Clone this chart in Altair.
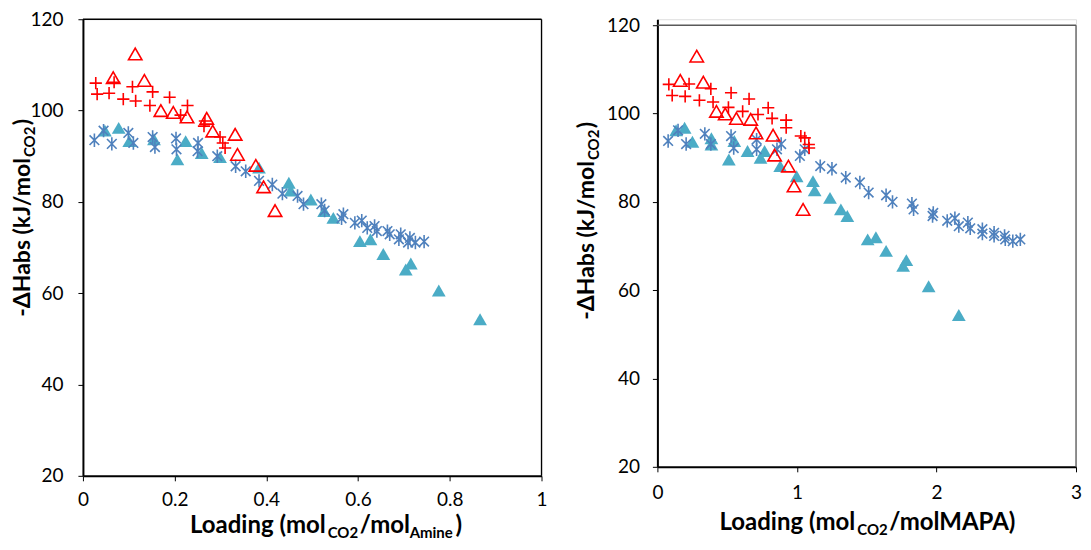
import altair as alt
import pandas as pd

FONT = "Lato"

# ---------------- Left panel data (Loading mol CO2 / mol Amine) ----------------
L_plus_x = [0.028, 0.031, 0.057, 0.068, 0.088, 0.108, 0.115, 0.146, 0.152, 0.189, 0.228, 0.213, 0.266, 0.264, 0.299, 0.305, 0.310]
L_plus_y = [106.0, 103.6, 103.8, 106.2, 102.5, 105.2, 102.1, 101.1, 104.1, 102.9, 101.1, 99.0, 97.7, 96.6, 94.2, 92.9, 91.8]

L_open_x = [0.066, 0.114, 0.134, 0.170, 0.197, 0.227, 0.270, 0.283, 0.332, 0.337, 0.377, 0.394, 0.419]
L_open_y = [107.2, 112.4, 106.6, 100.0, 99.6, 98.6, 98.3, 95.5, 94.8, 90.4, 88.0, 83.3, 78.1]

L_star_x = [0.025, 0.045, 0.063, 0.099, 0.110, 0.152, 0.157, 0.203, 0.204, 0.251, 0.250, 0.293, 0.333, 0.355,
            0.384, 0.413, 0.435, 0.468, 0.481, 0.520, 0.527, 0.568, 0.564, 0.593, 0.608, 0.620, 0.636, 0.641,
            0.664, 0.669, 0.693, 0.689, 0.713, 0.709, 0.725, 0.744]
L_star_y = [93.5, 95.6, 92.7, 95.1, 92.9, 94.2, 92.0, 93.9, 91.5, 92.9, 91.1, 90.0, 87.8, 86.7,
            84.6, 83.8, 81.8, 81.3, 79.5, 79.5, 78.1, 77.3, 76.4, 75.4, 75.9, 74.3, 74.7, 73.6,
            73.6, 72.9, 72.9, 71.8, 72.1, 71.1, 71.1, 71.3]

L_fill_x = [0.048, 0.078, 0.101, 0.155, 0.206, 0.224, 0.259, 0.299, 0.384, 0.449, 0.453, 0.497, 0.526, 0.546,
            0.604, 0.627, 0.655, 0.715, 0.704, 0.776, 0.866]
L_fill_y = [95.6, 96.2, 93.3, 93.7, 89.3, 93.3, 90.7, 89.8, 87.5, 84.2, 82.5, 80.5, 78.0, 76.5,
            71.4, 71.8, 68.6, 66.5, 65.2, 60.6, 54.3]

# ---------------- Right panel data (Loading mol CO2 / mol MAPA) ----------------
R_plus_x = [0.082, 0.106, 0.199, 0.227, 0.301, 0.383, 0.399, 0.509, 0.528, 0.611, 0.657, 0.721, 0.794, 0.822,
            0.923, 0.923, 1.028, 1.056, 1.085, 1.087]
R_plus_y = [106.6, 104.1, 103.9, 106.7, 103.0, 105.6, 102.6, 101.4, 104.7, 100.5, 103.3, 99.8, 101.3, 98.9,
            98.5, 96.8, 94.9, 94.5, 93.0, 92.2]

R_open_x = [0.164, 0.282, 0.329, 0.423, 0.486, 0.566, 0.669, 0.707, 0.829, 0.840, 0.939, 0.979, 1.044]
R_open_y = [107.5, 113.0, 107.1, 100.5, 99.9, 98.9, 98.7, 95.6, 95.1, 90.6, 88.1, 83.6, 78.3]

R_star_x = [0.077, 0.148, 0.206, 0.340, 0.383, 0.528, 0.547, 0.711, 0.711, 0.857, 0.887, 1.021, 1.056, 1.167,
            1.251, 1.350, 1.451, 1.514, 1.639, 1.685, 1.824, 1.836, 1.977, 1.972, 2.077, 2.132, 2.160, 2.225,
            2.242, 2.329, 2.329, 2.413, 2.413, 2.488, 2.493, 2.547, 2.601]
R_star_y = [93.8, 96.2, 93.1, 95.4, 93.1, 94.9, 92.2, 94.1, 91.9, 91.9, 93.1, 90.4, 91.9, 88.1,
            87.5, 85.5, 84.4, 82.1, 81.5, 80.0, 79.6, 78.3, 77.5, 76.8, 75.7, 76.3, 74.5, 75.3,
            74.0, 73.8, 72.8, 73.0, 72.3, 72.3, 71.5, 71.1, 71.5]

R_fill_x = [0.134, 0.195, 0.251, 0.387, 0.387, 0.512, 0.551, 0.646, 0.739, 0.768, 0.880, 0.998, 1.115, 1.127,
            1.237, 1.315, 1.361, 1.507, 1.566, 1.639, 1.761, 1.784, 1.944, 2.160]
R_fill_y = [96.2, 96.8, 93.6, 94.4, 93.0, 89.6, 93.8, 91.5, 90.0, 91.5, 88.1, 85.8, 84.7, 82.6,
            80.9, 78.3, 76.8, 71.5, 72.0, 68.9, 65.5, 66.8, 60.9, 54.4]

Y_TICKS = [20, 40, 60, 80, 100, 120]
L_X_TICKS = [0, 0.2, 0.4, 0.6, 0.8, 1]
R_X_TICKS = [0, 1, 2, 3]

RED = "#FF0000"
BLUE = "#4F81BD"
TEAL = "#4BACC6"

PLUS = "M-1,0L1,0M0,-1L0,1"
STAR = "M-0.72,-0.72L0.72,0.72M-0.72,0.72L0.72,-0.72M0,-1L0,1"


def panel(xdom, ydom, xticks, w, h, plus, opn, star, fill, titles, frame_color, xlabpad, ylabpad,
          anchor=None):
    xs = alt.Scale(domain=xdom, nice=False, zero=False)
    ys = alt.Scale(domain=ydom, nice=False, zero=False)
    xa = alt.Axis(values=xticks, labelExpr="datum.value + ''", tickSize=5, labelPadding=xlabpad,
                  domainWidth=2, domainColor="black", tickColor="black", tickWidth=1, grid=False,
                  title=None, labelFont=FONT, labelFontSize=19, labelColor="black", labelFlush=False,
                  labelOverlap=False)
    ya = alt.Axis(values=Y_TICKS, labelExpr="datum.value + ''", tickSize=5, labelPadding=ylabpad,
                  domainWidth=2, domainColor="black", tickColor="black", tickWidth=1, grid=False,
                  title=None, labelFont=FONT, labelFontSize=19, labelColor="black", labelOverlap=False)

    def pts(xv, yv, **kw):
        df = pd.DataFrame({"x": xv, "y": yv})
        return alt.Chart(df).mark_point(**kw).encode(
            x=alt.X("x:Q", scale=xs, axis=xa), y=alt.Y("y:Q", scale=ys, axis=ya))

    fill_l = pts(fill[0], fill[1], shape="triangle-up", filled=True, color=TEAL, opacity=1, size=190)
    star_l = pts(star[0], star[1], shape=STAR, filled=False, color=BLUE, opacity=1, size=180, strokeWidth=1.6)
    open_l = pts(opn[0], opn[1], shape="triangle-up", filled=False, color=RED, opacity=1, size=180, strokeWidth=1.6)
    plus_l = pts(plus[0], plus[1], shape=PLUS, filled=False, color=RED, opacity=1, size=150, strokeWidth=1.6)

    top = alt.Chart(pd.DataFrame({"x": [xdom[0]], "x2": [xdom[1]], "y": [Y_TICKS[-1]]})).mark_rule(
        color=frame_color, strokeWidth=1.3).encode(x=alt.X("x:Q", scale=xs, axis=xa), x2="x2:Q",
                                                     y=alt.Y("y:Q", scale=ys, axis=ya))
    right = alt.Chart(pd.DataFrame({"x": [xdom[1]], "y": [Y_TICKS[0]], "y2": [Y_TICKS[-1]]})).mark_rule(
        color=frame_color, strokeWidth=1.3).encode(x=alt.X("x:Q", scale=xs, axis=xa),
                                                     y=alt.Y("y:Q", scale=ys, axis=ya), y2="y2:Q")

    layers = [fill_l, star_l, open_l, plus_l, top, right]
    one = pd.DataFrame({"a": [0]})
    for (txt, px, py, size, align, angle) in titles:
        kw = dict(text=txt, font=FONT, fontSize=size, fontWeight="bold", color="black",
                  align=align, baseline="alphabetic")
        if angle:
            kw["angle"] = angle
        layers.append(alt.Chart(one).mark_text(**kw).encode(x=alt.value(px), y=alt.value(py)))
    if anchor is not None:
        # invisible anchor fixing the top-left corner of the drawing
        layers.append(alt.Chart(one).mark_rule(strokeOpacity=0, strokeWidth=0.5).encode(
            x=alt.value(anchor[0]), x2=alt.value(anchor[0] + 1), y=alt.value(anchor[1])))

    return alt.layer(*layers).properties(width=w, height=h)


MAIN = 24
SUB = 15

# Left panel plot area: page (82,18) .. (541,475)
LX, LY = 82, 18
left_titles = [
    ("-ΔHabs (kJ/mol", 29 - LX, 157 - LY, 23, "right", 270),
    ("CO2", 34 - LX, 156 - LY, SUB, "left", 270),
    (")", 29 - LX, 124 - LY, 23, "left", 270),
    ("Loading (mol", 325 - LX, 532 - LY, MAIN, "right", 0),
    ("CO2", 327 - LX, 537 - LY, SUB, "left", 0),
    ("/mol", 359 - LX, 532 - LY, MAIN, "left", 0),
    ("Amine", 409 - LX, 537 - LY, SUB, "left", 0),
    (")", 455 - LX, 532 - LY, MAIN, "left", 0),
]
# Right panel plot area: page (657,18) .. (1076,466); y=120 sits at page y=24
RX, RY = 657, 18
RW = 419
right_titles = [
    ("-ΔHabs (kJ/mol", 594 - RX, 160 - RY, 23, "right", 270),
    ("CO2", 599 - RX, 159 - RY, SUB, "left", 270),
    (")", 594 - RX, 127 - RY, 23, "left", 270),
    ("Loading (mol", 855 - RX, 529 - RY, MAIN, "right", 0),
    ("CO2", 857 - RX, 534 - RY, SUB, "left", 0),
    ("/molMAPA)", 889 - RX, 529 - RY, MAIN, "left", 0),
]

R_SCALE = (466 - 24) / 100.0
r_ytop = 120 + 6 / R_SCALE

left = panel([0, 1], [20, 120], L_X_TICKS, 459, 457,
             (L_plus_x, L_plus_y), (L_open_x, L_open_y), (L_star_x, L_star_y), (L_fill_x, L_fill_y),
             left_titles, "black", 10, 15, anchor=(8 - LX, 8 - LY))
right = panel([0, 3], [20, r_ytop], R_X_TICKS, RW, 448,
              (R_plus_x, R_plus_y), (R_open_x, R_open_y), (R_star_x, R_star_y), (R_fill_x, R_fill_y),
              right_titles, "#595959", 12, 13)

chart = alt.hconcat(left, right, spacing=RX - (LX + 459), bounds="flush").configure_view(
    stroke=None).properties(padding={"left": 0, "top": 0, "right": 0, "bottom": 0}).configure(
    background="white")

chart.save("out.html", embed_options={"renderer": "svg", "actions": False})
